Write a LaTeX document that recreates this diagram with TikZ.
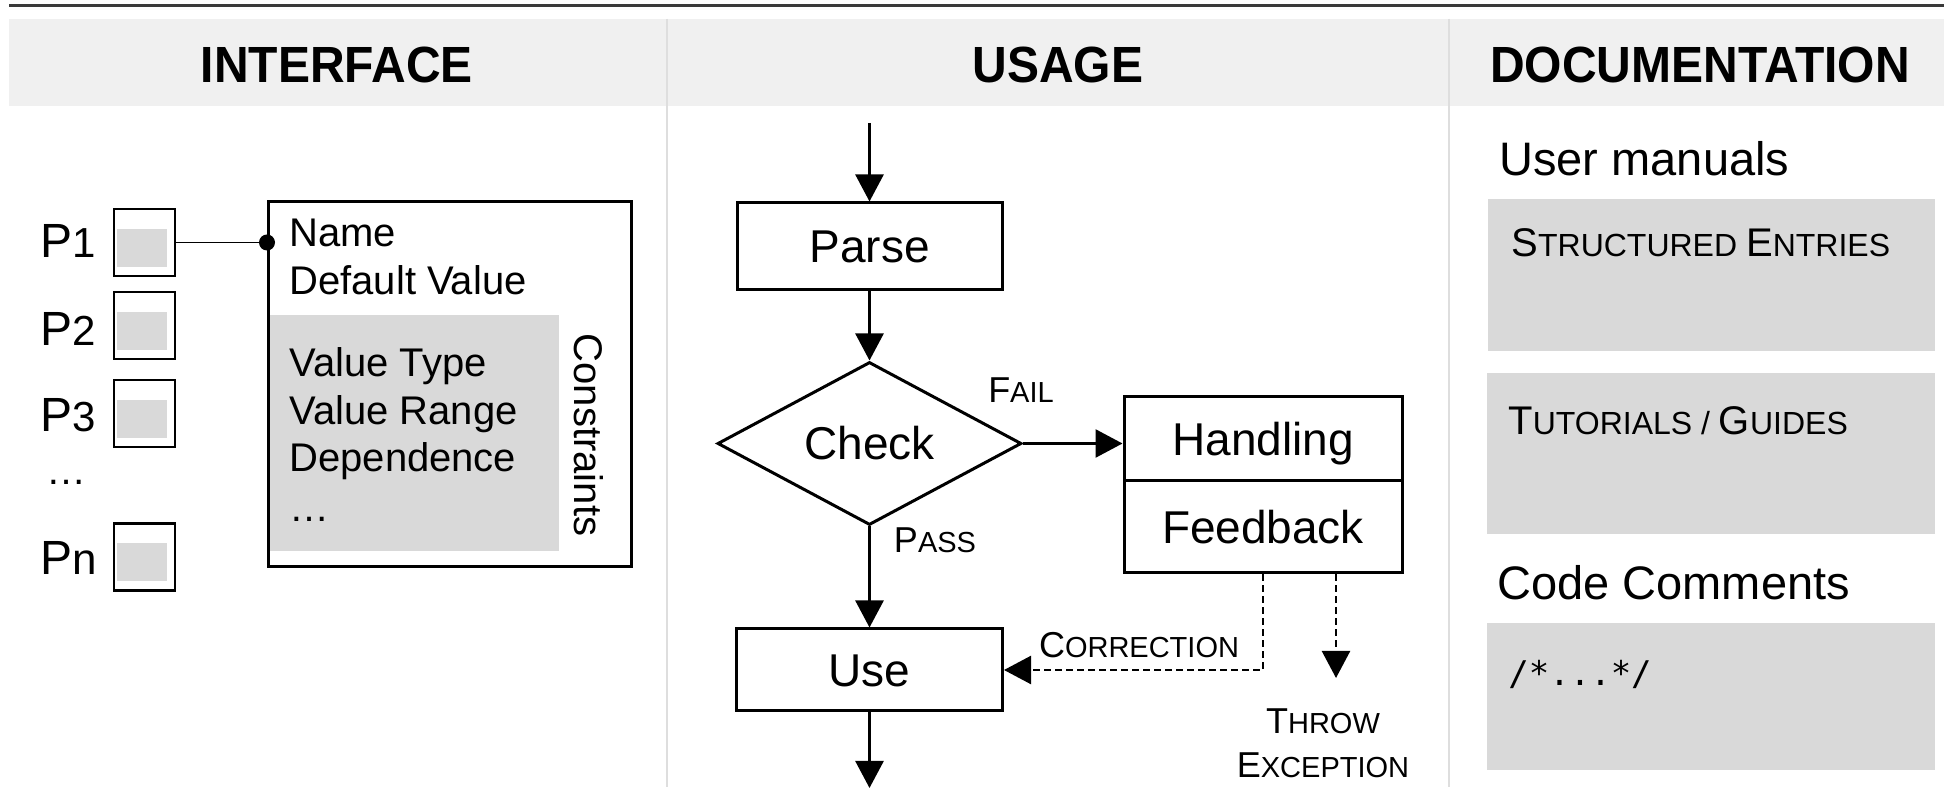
\documentclass[tikz,border=0pt]{standalone}
\usepackage{fontspec}
\setmainfont{Liberation Sans}
\newfontfamily\codefont{DejaVu Sans Mono}
\usetikzlibrary{arrows.meta,shapes.geometric}

\definecolor{bandgray}{HTML}{F0F0F0}
\definecolor{boxgray}{HTML}{D9D9D9}
\definecolor{sepgray}{HTML}{DEDEDE}
\definecolor{rulegray}{HTML}{3A3A3A}

\newcommand{\fz}[1]{\fontsize{#1}{#1}\selectfont}
% imitation small capitals: first letter full size, the rest smaller capitals
\newcommand{\lsc}[2]{{\fz{18}#1}{\fz{14.5}#2}}
\newcommand{\dsc}[2]{{\fz{20}#1}{\fz{16}#2}}

\begin{document}
\begin{tikzpicture}[x=0.5pt, y=-0.5pt,
  txt/.style={inner sep=0pt, anchor=base west},
  head/.style={inner sep=0pt, font=\fz{24}\bfseries, yscale=1.06},
  lbl/.style={inner sep=0pt},
  pbox/.style={draw, line width=1.4pt, minimum width=30.5pt, minimum height=33.5pt, inner sep=0pt,
    path picture={\fill[boxgray]
      ([xshift=1.5pt,yshift=-10pt]path picture bounding box.north west) rectangle
      ([xshift=-4pt,yshift=4.5pt]path picture bounding box.south east);}},
  flow/.style={draw, line width=1.5pt, inner sep=0pt, font=\fz{23}, text height=16.5pt, text depth=0pt},
  arr/.style={line width=1.3pt, -{Triangle[width=14pt,length=13.5pt]}},
  darr/.style={line width=1.2pt, dash pattern=on 3.5pt off 2pt, -{Triangle[width=14pt,length=13.5pt]}},
  docbox/.style={fill=boxgray, inner sep=0pt, anchor=north west},
]
\useasboundingbox (0,0) rectangle (1944,795);

% frame: top rule, header band, column separators
\draw[rulegray, line width=1.3pt] (9,5.5) -- (1944,5.5);
\fill[bandgray] (9,19) rectangle (1944,106);
\draw[sepgray, line width=1pt] (667,19) -- (667,787);
\draw[sepgray, line width=1pt] (1449,19) -- (1449,787);

\node[head] (hif) at (337,65) {INTERFACE};
\node[head] (hus) at (1058,65) {USAGE};
\node[head] (hdoc) at (1700,65) {DOCUMENTATION};

% ---------- interface column ----------
\node[pbox] (p1) at (144.5,242.5) {};
\node[pbox] (p2) at (144.5,325.5) {};
\node[pbox] (p3) at (144.5,413.5) {};
\node[pbox] (pn) at (144.5,557) {};

\node[txt] (l1) at (40,258) {\fz{24}P\fz{21}1};
\node[txt] (l2) at (40,346) {\fz{24}P\fz{21}2};
\node[txt] (l3) at (40,432) {\fz{24}P\fz{21}3};
\node[txt, font=\fz{20}] (ldots) at (46,485) {…};
\node[txt] (ln) at (40,575) {\fz{24}P\fz{22}n};

\node[fill=boxgray, inner sep=0pt, minimum width=145.25pt, minimum height=118pt, anchor=north west] (cons) at (268,315) {};
\node[draw, line width=1.4pt, inner sep=0pt, minimum width=181.5pt, minimum height=182.5pt, anchor=north west] (ifbox) at (267,200) {};

\node[txt, font=\fz{20}] (nm) at (289,247) {Name};
\node[txt, font=\fz{20}] (dv) at (289,295) {Default Value};
\node[txt, font=\fz{20}] (vt) at (289,377) {Value Type};
\node[txt, font=\fz{20}] (vr) at (289,425) {Value Range};
\node[txt, font=\fz{20}] (dp) at (289,472) {Dependence};
\node[txt, font=\fz{20}] (etc) at (289,522) {…};
\node[lbl, rotate=-90, font=\fz{20}] (ctag) at (589,435) {Constraints};

\draw[line width=0.7pt] (p1.east) -- (p1.east -| ifbox.west) coordinate (pin);
\fill (pin) circle (4pt);

% ---------- usage column ----------
\coordinate (start) at (869.5,123);
\coordinate (out) at (869.5,788);
\coordinate (throw) at (1336,678);

\node[flow, minimum width=132.5pt, minimum height=43.5pt] (parse) at (869.5,246.5) {Parse};
\node[flow, diamond, aspect=1.865, minimum width=152pt, minimum height=81.5pt] (check) at (869.5,443.5) {Check};
\node[flow, minimum width=139pt, minimum height=42pt] (handle) at (1263,439) {Handling};
\node[flow, minimum width=139pt, minimum height=46pt] (feed) at (1263,527) {Feedback};
\node[flow, minimum width=133pt, minimum height=41pt] (use) at (869.5,670) {Use};

\draw[arr] (start) -- (parse);
\draw[arr] (parse) -- (check);
\draw[arr] (check.east) -- (check.east -| handle.west);
\draw[arr] (check) -- (use);
\draw[arr] (use) -- (out);
\draw[darr] (feed.south) |- (use.east);
\draw[darr] (throw |- feed.south) -- (throw);

\node[lbl] (fail) at (1021,390) {\lsc{F}{AIL}};
\node[lbl] (pass) at (935,540) {\lsc{P}{ASS}};
\node[lbl] (corr) at (1139,645) {\lsc{C}{ORRECTION}};
\node[lbl] (thr) at (1323,721) {\lsc{T}{HROW}};
\node[lbl] (exc) at (1323,765) {\lsc{E}{XCEPTION}};

% ---------- documentation column ----------
\node[docbox, minimum width=223.5pt, minimum height=76pt] (b1) at (1488,199) {};
\node[docbox, minimum width=224pt, minimum height=80.5pt] (b2) at (1487,373) {};
\node[docbox, minimum width=224pt, minimum height=73.5pt] (b3) at (1487,623) {};

\node[txt, font=\fz{23.5}] (um) at (1499,176) {User manuals};
\node[txt, font=\fz{16}] (se) at (1511,257) {\dsc{S}{TRUCTURED} \dsc{E}{NTRIES}};
\node[txt, font=\fz{16}] (tg) at (1508,435) {\dsc{T}{UTORIALS} / \dsc{G}{UIDES}};
\node[txt, font=\fz{23.5}] (cc) at (1497,600) {Code Comments};
\node[txt, font=\codefont\fz{17}] (cm) at (1508,686) {/*...*/};
\end{tikzpicture}
\end{document}
